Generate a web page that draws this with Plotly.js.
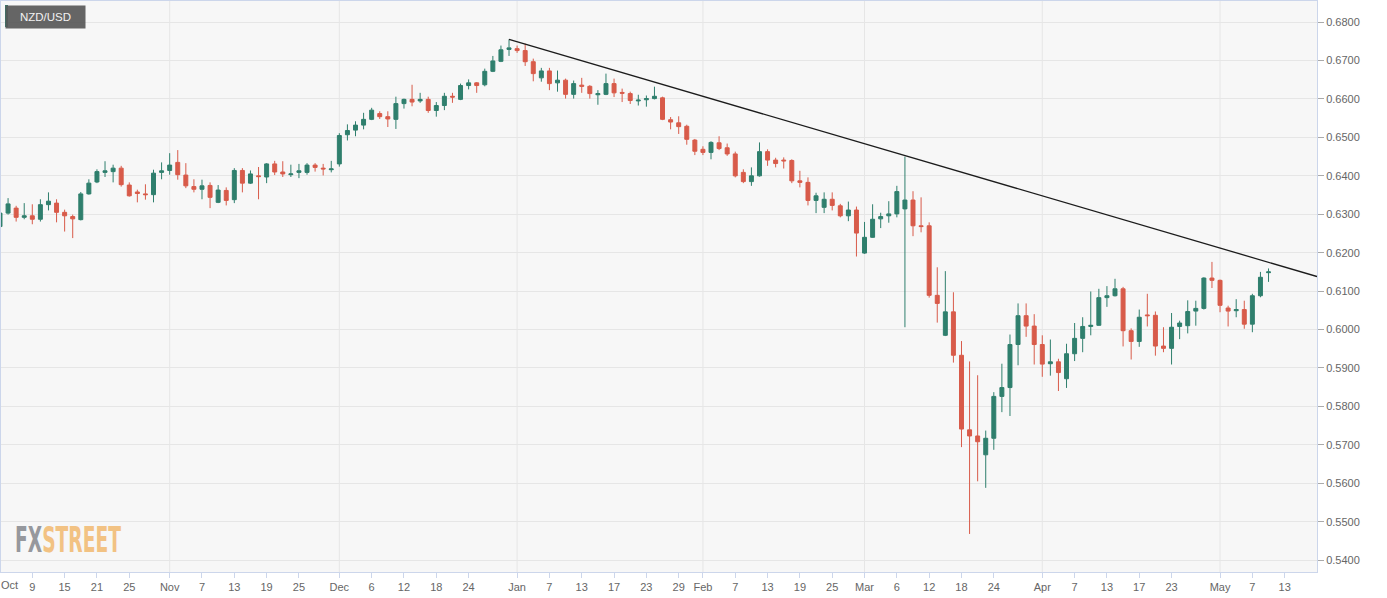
<!DOCTYPE html>
<html>
<head>
<meta charset="utf-8">
<script src="https://cdn.plot.ly/plotly-3.0.1.min.js"></script>
<style>
  html, body { margin:0; padding:0; background:#ffffff; }
  #wrap { position:relative; width:1387px; height:598px; overflow:hidden; }
  #chart { position:absolute; left:0; top:0; width:1387px; height:598px; }
  #wm { position:absolute; left:15px; top:522px; white-space:nowrap; pointer-events:none;
        font-family:"Liberation Sans Narrow","DejaVu Sans Condensed","Liberation Sans",Arial,sans-serif;
        font-weight:bold; font-size:36px; line-height:36px; transform-origin:0 0; }
</style>
</head>
<body>
<div id="wrap">
  <div id="chart"></div>
  <div id="wm"><span style="color:#96989d">FX</span><span style="color:#f2c283">STREET</span></div>
</div>
<script>
// ---- Data: NZD/USD daily candles ----
const dates = [
 "2019-10-03","2019-10-04","2019-10-07","2019-10-08","2019-10-09","2019-10-10","2019-10-11",
 "2019-10-14","2019-10-15","2019-10-16","2019-10-17","2019-10-18","2019-10-21","2019-10-22",
 "2019-10-23","2019-10-24","2019-10-25","2019-10-28","2019-10-29","2019-10-30","2019-10-31",
 "2019-11-01","2019-11-04","2019-11-05","2019-11-06","2019-11-07","2019-11-08","2019-11-11",
 "2019-11-12","2019-11-13","2019-11-14","2019-11-15","2019-11-18","2019-11-19","2019-11-20",
 "2019-11-21","2019-11-22","2019-11-25","2019-11-26","2019-11-27","2019-11-28","2019-11-29",
 "2019-12-02","2019-12-03","2019-12-04","2019-12-05","2019-12-06","2019-12-09","2019-12-10",
 "2019-12-11","2019-12-12","2019-12-13","2019-12-16","2019-12-17","2019-12-18","2019-12-19",
 "2019-12-20","2019-12-23","2019-12-24","2019-12-25","2019-12-26","2019-12-27","2019-12-30",
 "2019-12-31",
 "2020-01-01","2020-01-02","2020-01-03","2020-01-06","2020-01-07","2020-01-08","2020-01-09",
 "2020-01-10","2020-01-13","2020-01-14","2020-01-15","2020-01-16","2020-01-17","2020-01-20",
 "2020-01-21","2020-01-22","2020-01-23","2020-01-24","2020-01-27","2020-01-28","2020-01-29",
 "2020-01-30","2020-01-31",
 "2020-02-03","2020-02-04","2020-02-05","2020-02-06","2020-02-07","2020-02-10","2020-02-11",
 "2020-02-12","2020-02-13","2020-02-14","2020-02-17","2020-02-18","2020-02-19","2020-02-20",
 "2020-02-21","2020-02-24","2020-02-25","2020-02-26","2020-02-27","2020-02-28",
 "2020-03-02","2020-03-03","2020-03-04","2020-03-05","2020-03-06","2020-03-09","2020-03-10",
 "2020-03-11","2020-03-12","2020-03-13","2020-03-16","2020-03-17","2020-03-18","2020-03-19",
 "2020-03-20","2020-03-23","2020-03-24","2020-03-25","2020-03-26","2020-03-27","2020-03-30",
 "2020-03-31",
 "2020-04-01","2020-04-02","2020-04-03","2020-04-06","2020-04-07","2020-04-08","2020-04-09",
 "2020-04-10","2020-04-13","2020-04-14","2020-04-15","2020-04-16","2020-04-17","2020-04-20",
 "2020-04-21","2020-04-22","2020-04-23","2020-04-24","2020-04-27","2020-04-28","2020-04-29",
 "2020-04-30",
 "2020-05-01","2020-05-04","2020-05-05","2020-05-06","2020-05-07","2020-05-08","2020-05-11"
];
const openP = [
 0.6268,0.6303,0.6316,0.6292,0.6296,0.6287,0.6325,0.6329,0.6305,0.6294,0.6286,0.6353,0.6384,0.6409,
 0.6411,0.6420,0.6376,0.6358,0.6353,0.6351,0.6409,
 0.6414,0.6435,0.6402,0.6372,0.6365,0.6375,0.6331,0.6362,0.6338,0.6414,0.6381,0.6400,0.6397,0.6431,
 0.6410,0.6403,0.6409,0.6409,0.6428,0.6420,0.6416,
 0.6431,0.6507,0.6519,0.6532,0.6547,0.6562,0.6554,0.6547,0.6588,0.6599,0.6595,0.6599,0.6570,0.6583,
 0.6607,0.6599,0.6635,0.6642,0.6637,0.6672,0.6698,0.6729,
 0.6731,0.6726,0.6697,0.6655,0.6673,0.6642,0.6649,0.6612,0.6636,0.6633,0.6611,0.6612,0.6640,0.6617,
 0.6614,0.6595,0.6598,0.6601,0.6603,0.6546,0.6538,0.6529,0.6493,
 0.6469,0.6461,0.6486,0.6473,0.6457,0.6409,0.6385,0.6400,0.6463,0.6441,0.6441,0.6440,0.6387,0.6383,
 0.6336,0.6318,0.6339,0.6322,0.6296,0.6311,
 0.6199,0.6240,0.6288,0.6296,0.6301,0.6314,0.6337,0.6270,0.6270,0.6089,0.5985,0.6046,0.5933,0.5739,
 0.5723,0.5674,0.5717,0.5826,0.5849,0.5961,0.6036,0.6009,
 0.5961,0.5911,0.5916,0.5872,0.5937,0.5977,0.6008,0.6011,0.6083,0.6088,0.6106,0.5997,0.5969,0.6038,
 0.6037,0.5957,0.5951,0.6008,0.6010,0.6048,0.6055,0.6134,
 0.6128,0.6056,0.6049,0.6052,0.6014,0.6088,0.6148
];
const highP = [
 0.6320,0.6342,0.6322,0.6329,0.6326,0.6339,0.6357,0.6339,0.6312,0.6299,0.6358,0.6391,0.6417,0.6438,
 0.6429,0.6426,0.6383,0.6364,0.6378,0.6416,0.6435,
 0.6459,0.6467,0.6433,0.6391,0.6390,0.6383,0.6376,0.6370,0.6420,0.6420,0.6414,0.6423,0.6433,0.6439,
 0.6438,0.6429,0.6431,0.6433,0.6433,0.6431,0.6439,
 0.6511,0.6534,0.6542,0.6564,0.6577,0.6568,0.6568,0.6606,0.6601,0.6637,0.6616,0.6606,0.6592,0.6616,
 0.6616,0.6640,0.6651,0.6644,0.6679,0.6712,0.6739,0.6755,
 0.6739,0.6744,0.6705,0.6681,0.6681,0.6674,0.6653,0.6648,0.6655,0.6636,0.6623,0.6666,0.6653,0.6627,
 0.6619,0.6611,0.6609,0.6632,0.6606,0.6553,0.6555,0.6533,0.6496,
 0.6477,0.6490,0.6503,0.6484,0.6463,0.6417,0.6422,0.6487,0.6469,0.6447,0.6448,0.6443,0.6413,0.6396,
 0.6356,0.6357,0.6357,0.6327,0.6333,0.6320,
 0.6280,0.6326,0.6304,0.6334,0.6374,0.6450,0.6360,0.6344,0.6279,0.6162,0.6152,0.6097,0.5970,0.5917,
 0.5881,0.5737,0.5837,0.5911,0.5987,0.6068,0.6068,0.6040,
 0.5985,0.5974,0.5924,0.5963,0.6017,0.6032,0.6099,0.6106,0.6113,0.6132,0.6111,0.6003,0.6052,0.6093,
 0.6047,0.6006,0.6043,0.6023,0.6076,0.6075,0.6136,0.6176,
 0.6130,0.6062,0.6079,0.6075,0.6093,0.6150,0.6159
];
const lowP = [
 0.6255,0.6299,0.6281,0.6287,0.6274,0.6281,0.6310,0.6279,0.6255,0.6238,0.6284,0.6351,0.6381,0.6397,
 0.6383,0.6372,0.6346,0.6331,0.6338,0.6331,0.6391,
 0.6403,0.6390,0.6368,0.6357,0.6339,0.6316,0.6329,0.6323,0.6329,0.6357,0.6379,0.6339,0.6381,0.6402,
 0.6397,0.6397,0.6394,0.6403,0.6411,0.6401,0.6409,
 0.6424,0.6492,0.6503,0.6521,0.6545,0.6548,0.6527,0.6522,0.6575,0.6581,0.6590,0.6564,0.6554,0.6571,
 0.6590,0.6597,0.6625,0.6616,0.6633,0.6670,0.6696,0.6712,
 0.6720,0.6686,0.6646,0.6645,0.6623,0.6619,0.6601,0.6601,0.6616,0.6601,0.6585,0.6610,0.6605,0.6592,
 0.6587,0.6583,0.6580,0.6599,0.6545,0.6521,0.6509,0.6481,0.6454,
 0.6454,0.6443,0.6467,0.6452,0.6396,0.6381,0.6374,0.6398,0.6426,0.6422,0.6419,0.6381,0.6370,0.6323,
 0.6303,0.6303,0.6310,0.6292,0.6282,0.6190,
 0.6197,0.6239,0.6264,0.6278,0.6292,0.6006,0.6243,0.6253,0.6083,0.6018,0.5983,0.5914,0.5694,0.5468,
 0.5605,0.5588,0.5687,0.5785,0.5775,0.5907,0.5981,0.5909,
 0.5877,0.5880,0.5840,0.5848,0.5918,0.5941,0.5985,0.6010,0.6059,0.6086,0.5956,0.5922,0.5955,0.6008,
 0.5932,0.5941,0.5909,0.5975,0.5990,0.6010,0.6052,0.6108,
 0.6045,0.6008,0.6032,0.6002,0.5993,0.6084,0.6124
];
const closeP = [
 0.6303,0.6327,0.6292,0.6296,0.6287,0.6325,0.6334,0.6305,0.6296,0.6288,0.6353,0.6381,0.6411,0.6413,
 0.6420,0.6377,0.6348,0.6354,0.6351,0.6407,0.6413,
 0.6428,0.6403,0.6374,0.6365,0.6374,0.6344,0.6363,0.6336,0.6414,0.6381,0.6405,0.6398,0.6431,0.6410,
 0.6405,0.6405,0.6413,0.6428,0.6422,0.6418,0.6418,
 0.6505,0.6518,0.6532,0.6547,0.6571,0.6554,0.6548,0.6588,0.6599,0.6592,0.6599,0.6570,0.6583,0.6607,
 0.6605,0.6635,0.6642,0.6635,0.6672,0.6699,0.6728,0.6733,
 0.6726,0.6697,0.6666,0.6673,0.6640,0.6649,0.6612,0.6640,0.6633,0.6614,0.6614,0.6640,0.6616,0.6615,
 0.6596,0.6597,0.6601,0.6607,0.6547,0.6540,0.6528,0.6495,0.6464,
 0.6461,0.6487,0.6471,0.6457,0.6400,0.6385,0.6400,0.6463,0.6441,0.6432,0.6439,0.6387,0.6383,0.6336,
 0.6348,0.6339,0.6323,0.6296,0.6311,0.6251,
 0.6240,0.6287,0.6294,0.6301,0.6359,0.6337,0.6270,0.6268,0.6089,0.6068,0.6046,0.5933,0.5741,0.5723,
 0.5708,0.5717,0.5826,0.5849,0.5961,0.6036,0.6009,0.5961,
 0.5910,0.5916,0.5888,0.5937,0.5977,0.6008,0.6011,0.6083,0.6088,0.6106,0.5997,0.5969,0.6032,0.6036,
 0.5957,0.5951,0.6006,0.6017,0.6047,0.6055,0.6134,0.6128,
 0.6063,0.6048,0.6052,0.6014,0.6088,0.6136,0.6150
];

// Descending trendline (from the December high)
const trendDates  = ["2019-12-31", "2020-05-19"];
const trendValues = [0.6755, 0.6138];

// X-axis tick dates and labels
const tickDates = [
 "2019-10-01","2019-10-09","2019-10-15","2019-10-21","2019-10-25",
 "2019-11-01","2019-11-07","2019-11-13","2019-11-19","2019-11-25",
 "2019-12-02","2019-12-06","2019-12-12","2019-12-18","2019-12-24",
 "2020-01-01","2020-01-07","2020-01-13","2020-01-17","2020-01-23","2020-01-29",
 "2020-02-03","2020-02-07","2020-02-13","2020-02-19","2020-02-25",
 "2020-03-02","2020-03-06","2020-03-12","2020-03-18","2020-03-24",
 "2020-04-01","2020-04-07","2020-04-13","2020-04-17","2020-04-23",
 "2020-05-01","2020-05-07","2020-05-13"
];
const tickLabels = [
 "Oct","9","15","21","25",
 "Nov","7","13","19","25",
 "Dec","6","12","18","24",
 "Jan","7","13","17","23","29",
 "Feb","7","13","19","25",
 "Mar","6","12","18","24",
 "Apr","7","13","17","23",
 "May","7","13"
];
const pairName = "NZD/USD";

// ---- Build chart ----
const noon = d => d + " 12:00";
const xStart = "2019-10-03 15:00";
const xEnd   = "2020-05-19 12:00";
const GREEN = "#2f7f6d", RED = "#d85b4a";
const FONT = '"Liberation Sans", Arial, sans-serif';

const candles = {
  type: "candlestick",
  x: dates.map(noon), open: openP, high: highP, low: lowP, close: closeP,
  increasing: { line: { color: GREEN, width: 1 }, fillcolor: GREEN },
  decreasing: { line: { color: RED, width: 1 }, fillcolor: RED },
  whiskerwidth: 0, hoverinfo: "skip", showlegend: false
};
const trend = {
  type: "scatter", mode: "lines",
  x: trendDates.map(noon), y: trendValues,
  line: { color: "#1c1c1c", width: 1.3 }, hoverinfo: "skip", showlegend: false
};

const monthTicks = tickDates.filter((d, i) => isNaN(+tickLabels[i]) && noon(d) >= xStart);
const shapes = monthTicks.map(d => ({
  type: "line", xref: "x", yref: "paper", x0: noon(d), x1: noon(d), y0: 0, y1: 1,
  line: { color: "#e6e6e6", width: 1 }, layer: "below"
}));
// green stripe of the pair badge
shapes.push({
  type: "rect", xref: "paper", yref: "paper", xsizemode: "pixel", ysizemode: "pixel",
  xanchor: 0, yanchor: 1, x0: 4, x1: 7, y0: -4, y1: -26,
  fillcolor: GREEN, line: { width: 0 }, layer: "above"
});

const annotations = [
  { xref: "paper", yref: "paper", x: 0, y: 1, xanchor: "left", yanchor: "top",
    xshift: 4, yshift: -4, text: pairName, showarrow: false,
    width: 79, height: 22, borderpad: 0, bgcolor: "rgba(88,88,88,0.92)", align: "center",
    font: { family: FONT, size: 11.5, color: "#f2f2f2" } },
  { xref: "paper", yref: "paper", x: 0, y: 0, xanchor: "left", yanchor: "top",
    xshift: -1, yshift: -6, text: tickLabels[0], showarrow: false, borderpad: 0,
    font: { family: FONT, size: 11, color: "#666666" } }
];

const layout = {
  width: 1387, height: 598,
  margin: { l: 1, r: 70, t: 1, b: 26, pad: 0 },
  paper_bgcolor: "#ffffff", plot_bgcolor: "#f7f7f7",
  showlegend: false,
  font: { family: FONT, size: 11, color: "#666666" },
  xaxis: {
    type: "date", range: [xStart, xEnd],
    rangebreaks: [{ bounds: ["sat", "mon"] }],
    rangeslider: { visible: false },
    tickmode: "array", tickvals: tickDates.map(noon), ticktext: tickLabels,
    showgrid: false, zeroline: false,
    ticks: "outside", ticklen: 5, tickcolor: "#ccd6eb", tickwidth: 1,
    showline: true, linecolor: "#ccd6eb", linewidth: 1, mirror: true,
    tickfont: { family: FONT, size: 11, color: "#666666" }, fixedrange: true
  },
  yaxis: {
    side: "right", range: [0.5369, 0.6855],
    tick0: 0.54, dtick: 0.01, tickformat: ".4f",
    gridcolor: "#e6e6e6", gridwidth: 1, zeroline: false,
    ticks: "outside", ticklen: 6, tickcolor: "#aaaaaa", tickwidth: 1,
    showline: true, linecolor: "#ccd6eb", linewidth: 1, mirror: true,
    tickfont: { family: FONT, size: 11, color: "#666666" }, fixedrange: true
  },
  shapes: shapes,
  annotations: annotations
};

Plotly.newPlot("chart", [candles, trend], layout, { staticPlot: true, displayModeBar: false });

// scale the watermark to the logo width
(function () {
  const wm = document.getElementById("wm");
  const w = wm.getBoundingClientRect().width;
  if (w > 0) wm.style.transform = "scaleX(" + (106 / w) + ")";
})();
</script>
</body>
</html>
